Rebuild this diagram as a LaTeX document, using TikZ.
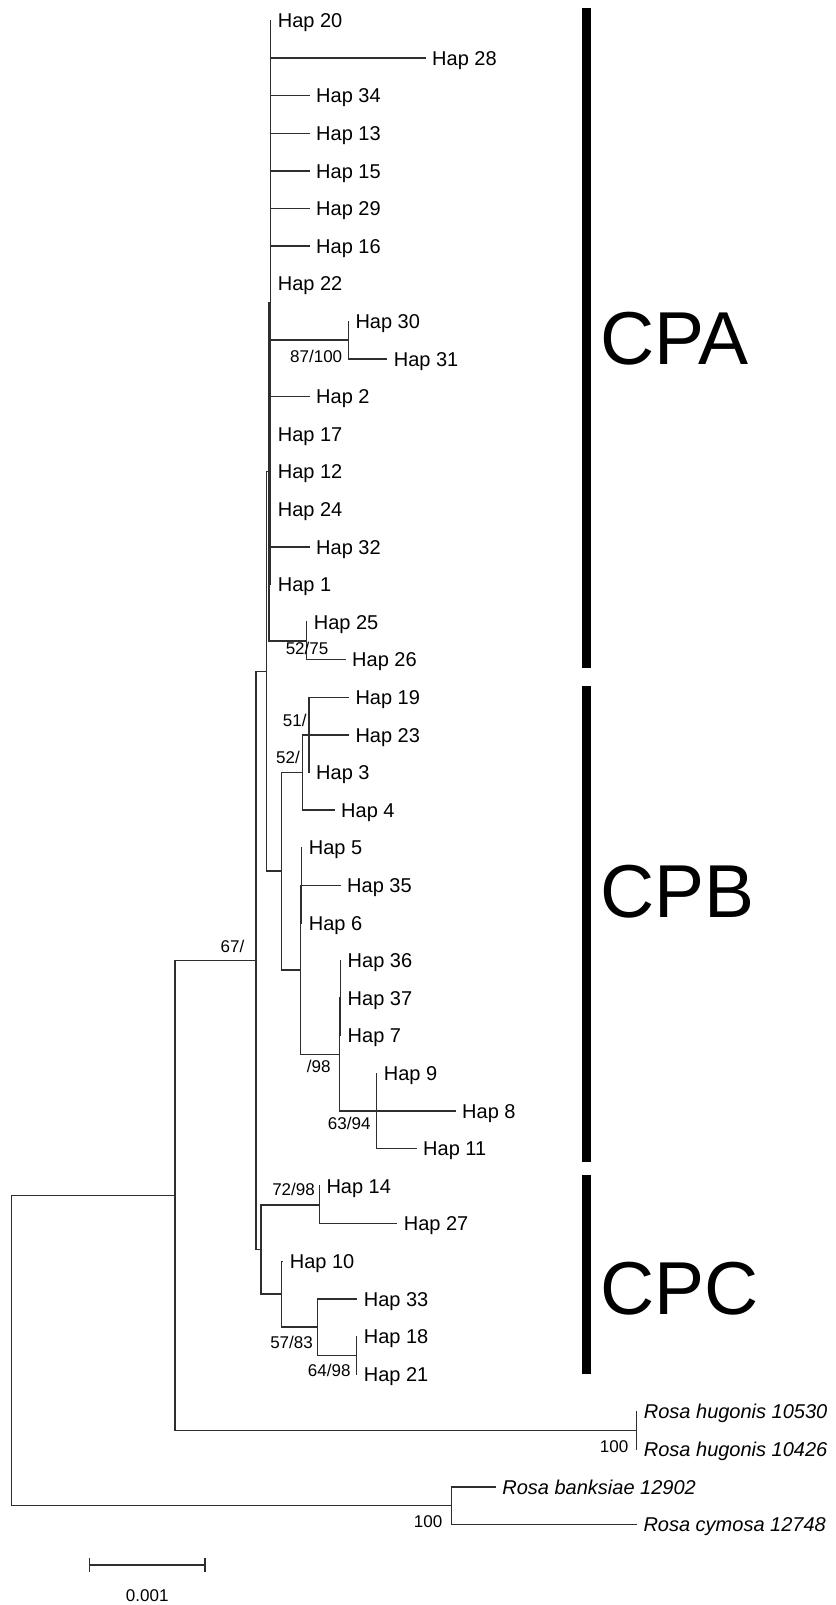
\documentclass[tikz,border=0pt]{standalone}
\usepackage{fontspec}
\setmainfont{Liberation Sans}
\begin{document}
\begin{tikzpicture}[x=1pt,y=-1pt,
  br/.style={line width=1.45pt, draw=black!82, line cap=rect},
  lab/.style={anchor=base west, inner sep=0pt, font=\fontsize{20}{24}\selectfont, xshift=7pt, yshift=-7.2pt},
  ilab/.style={lab, font=\fontsize{20}{24}\selectfont\itshape},
  bs/.style={anchor=base east, inner sep=0pt, font=\fontsize{17}{20}\selectfont},
  clade/.style={anchor=base west, inner sep=0pt, font=\fontsize{75}{80}\selectfont},
  cbar/.style={fill=black}]
\useasboundingbox (0,0) rectangle (835,1605);
% ---------- internal nodes ----------
\coordinate (root) at (11.7,1350.6);
\coordinate (IH) at (175,1195.5);
\coordinate (hug) at (636.7,1430.5);
\coordinate (bc) at (451.5,1505.7);
\coordinate (ING) at (256,960.5);
\coordinate (AB) at (266.7,671.45);
\coordinate (CPAn) at (268.8,471.7);
\coordinate (P) at (270.7,302.5);
\coordinate (n3031) at (348.3,340.1);
\coordinate (n2526) at (306.7,640.9);
\coordinate (CPBn) at (281.7,871.2);
\coordinate (B1) at (302.3,772.5);
\coordinate (n19233) at (309,734.9);
\coordinate (B2) at (300.7,969.9);
\coordinate (n5356) at (301.7,885.3);
\coordinate (B3) at (339.3,1054.5);
\coordinate (n36377) at (340.5,998.1);
\coordinate (n9811) at (376.7,1110.9);
\coordinate (CPCn) at (261,1249.55);
\coordinate (n1427) at (319.3,1204.9);
\coordinate (n10) at (281.7,1294.2);
\coordinate (n33) at (317.3,1327.1);
\coordinate (n1821) at (356.7,1355.3);
% ---------- tips ----------
\coordinate (t20) at (270.7,20.5);
\coordinate (t28) at (425,58.1);
\coordinate (t34) at (309,95.7);
\coordinate (t13) at (309,133.3);
\coordinate (t15) at (309,170.9);
\coordinate (t29) at (309,208.5);
\coordinate (t16) at (309,246.1);
\coordinate (t22) at (270.7,283.7);
\coordinate (t30) at (348.3,321.3);
\coordinate (t31) at (386.7,358.9);
\coordinate (t2) at (309,396.5);
\coordinate (t17) at (270.7,434.1);
\coordinate (t12) at (270.7,471.7);
\coordinate (t24) at (270.7,509.3);
\coordinate (t32) at (309,546.9);
\coordinate (t1) at (270.7,584.5);
\coordinate (t25) at (306.7,622.1);
\coordinate (t26) at (345,659.7);
\coordinate (t19) at (348.3,697.3);
\coordinate (t23) at (348.3,734.9);
\coordinate (t3) at (309,772.5);
\coordinate (t4) at (334,810.1);
\coordinate (t5) at (301.7,847.7);
\coordinate (t35) at (340,885.3);
\coordinate (t6) at (301.7,922.9);
\coordinate (t36) at (340.5,960.5);
\coordinate (t37) at (340.5,998.1);
\coordinate (t7) at (340.5,1035.7);
\coordinate (t9) at (376.7,1073.3);
\coordinate (t8) at (455,1110.9);
\coordinate (t11) at (416,1148.5);
\coordinate (t14) at (319.3,1186.1);
\coordinate (t27) at (396.7,1223.7);
\coordinate (t10) at (282.7,1261.3);
\coordinate (t33) at (356.7,1298.9);
\coordinate (t18) at (356.7,1336.5);
\coordinate (t21) at (356.7,1374.1);
\coordinate (th1) at (636.7,1411.7);
\coordinate (th2) at (636.7,1449.3);
\coordinate (tba) at (495.2,1486.9);
\coordinate (tcy) at (636.3,1524.5);
% ---------- branches ----------
\foreach \p/\c in {root/IH, root/bc, IH/ING, IH/hug, hug/th1, hug/th2, bc/tba, bc/tcy,
  ING/AB, ING/CPCn, AB/CPAn, AB/CPBn, CPAn/P, CPAn/n2526,
  P/t20, P/t28, P/t34, P/t13, P/t15, P/t29, P/t16, P/t22, P/n3031, P/t2, P/t17, P/t12, P/t24, P/t32, P/t1,
  n3031/t30, n3031/t31, n2526/t25, n2526/t26,
  CPBn/B1, CPBn/B2, B1/n19233, B1/t4, n19233/t19, n19233/t23, n19233/t3,
  B2/n5356, B2/B3, n5356/t5, n5356/t35, n5356/t6, B3/n36377, B3/n9811,
  n36377/t36, n36377/t37, n36377/t7, n9811/t9, n9811/t8, n9811/t11,
  CPCn/n1427, CPCn/n10, n1427/t14, n1427/t27, n10/t10, n10/n33, n33/t33, n33/n1821,
  n1821/t18, n1821/t21}
  \draw[br] (\p) |- (\c);
% ---------- tip labels ----------
\foreach \t/\n in {20/20, 28/28, 34/34, 13/13, 15/15, 29/29, 16/16, 22/22, 30/30, 31/31, 2/2, 17/17, 12/12, 24/24, 32/32, 1/1, 25/25, 26/26, 19/19, 23/23, 3/3, 4/4, 5/5, 35/35, 6/6, 36/36, 37/37, 7/7, 9/9, 8/8, 11/11, 14/14, 27/27, 10/10, 33/33, 18/18, 21/21}
  \node[lab] (l\t) at (t\t) {Hap \n};
\node[ilab] (lh1) at (th1) {Rosa hugonis 10530};
\node[ilab] (lh2) at (th2) {Rosa hugonis 10426};
\node[ilab] (lba) at (tba) {Rosa banksiae 12902};
\node[ilab] (lcy) at (tcy) {Rosa cymosa 12748};
% ---------- bootstrap values ----------
\node[bs] (b1) at (342.4,362.8) {87/100};
\node[bs] (b2) at (328.5,654.1) {52/75};
\node[bs] (b3) at (306.7,726.1) {51/};
\node[bs] (b4) at (300,763.4) {52/};
\node[bs] (b5) at (244.5,952.6) {67/};
\node[bs] (b6) at (330.7,1072.8) {/98};
\node[bs] (b7) at (370.7,1129.4) {63/94};
\node[bs] (b8) at (315,1195.4) {72/98};
\node[bs] (b9) at (313,1348.8) {57/83};
\node[bs] (b10) at (350.7,1376.1) {64/98};
\node[bs] (b11) at (628.5,1452.8) {100};
\node[bs] (b12) at (442.5,1527) {100};
% ---------- clade bars ----------
\fill[cbar] (581.7,8.3) rectangle (590.7,668);
\fill[cbar] (581.7,686) rectangle (590.7,1162);
\fill[cbar] (581.7,1174.5) rectangle (590.7,1374);
\node[clade] (cpa) at (600,364.4) {CPA};
\node[clade] (cpb) at (600,917.9) {CPB};
\node[clade] (cpc) at (600,1314.9) {CPC};
% ---------- scale bar ----------
\coordinate (s1) at (89.3,1565);
\coordinate (s2) at (205,1565);
\draw[br] (s1) -- (s2);
\draw[br] ([yshift=6pt]s1) -- ([yshift=-6pt]s1);
\draw[br] ([yshift=6pt]s2) -- ([yshift=-6pt]s2);
\node[anchor=base, inner sep=0pt, font=\fontsize{17}{20}\selectfont] (sl) at (147.2,1601) {0.001};
\end{tikzpicture}
\end{document}
